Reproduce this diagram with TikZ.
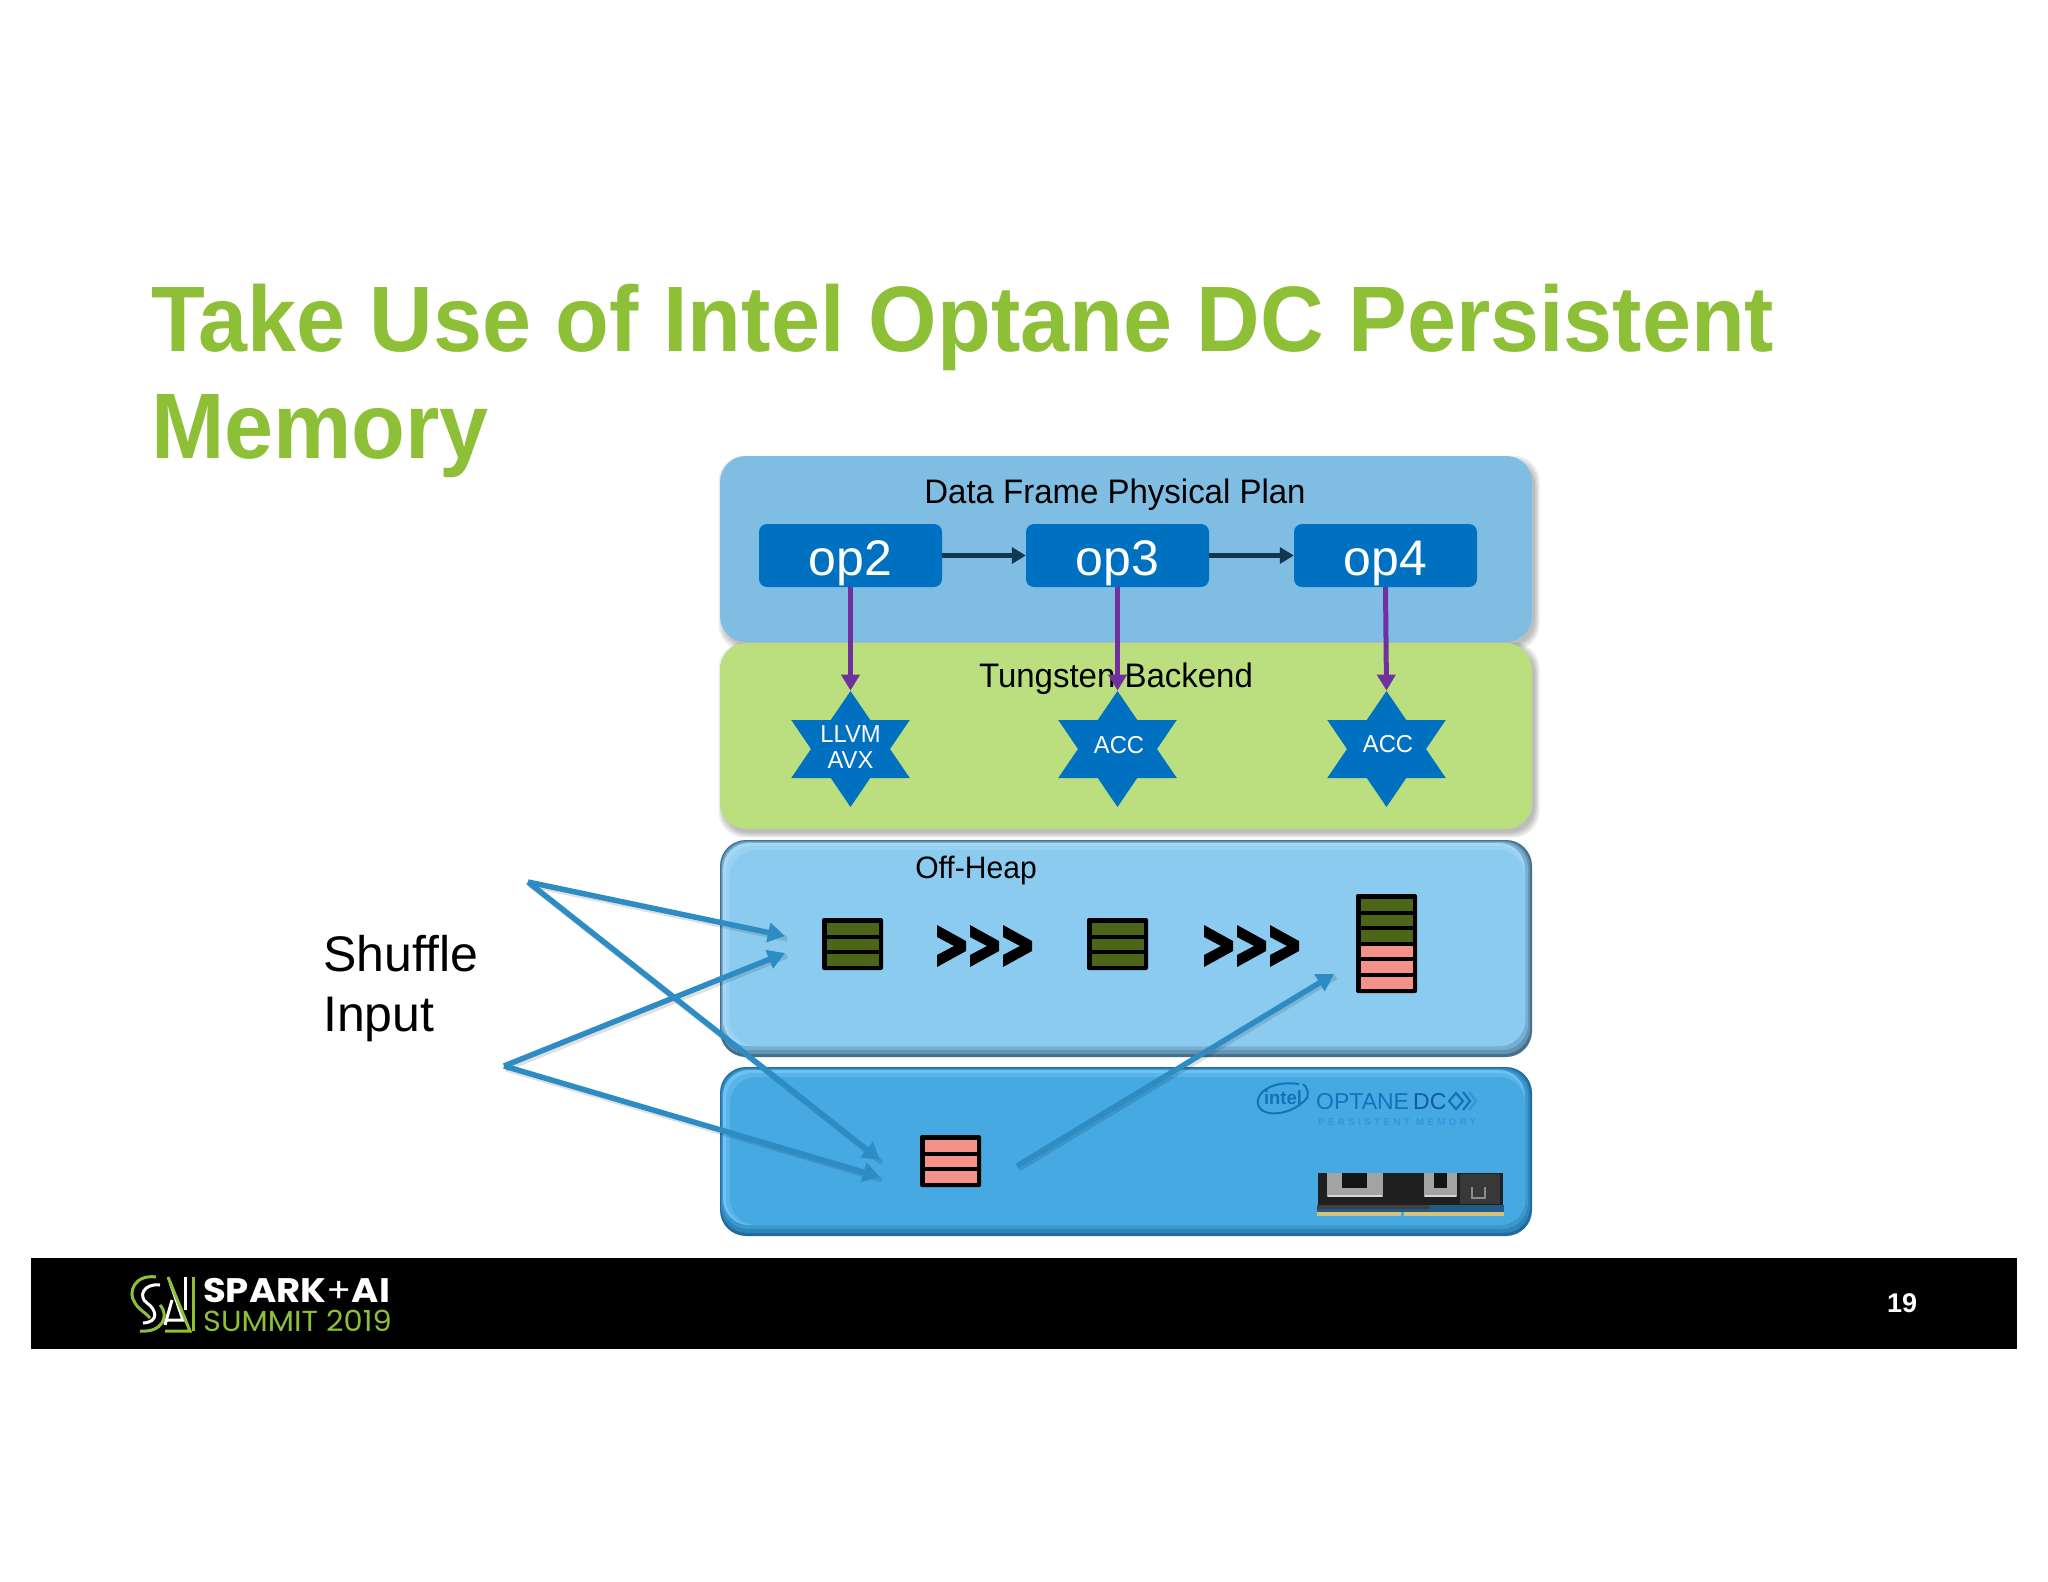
\documentclass[tikz,border=0pt]{standalone}
\usepackage{fontspec}
\setmainfont{Liberation Sans}
\newfontfamily\titlefont[FakeStretch=0.947]{Liberation Sans}
\newfontfamily\labelfont[FakeStretch=0.97]{Liberation Sans}
\newfontfamily\pmfont[LetterSpace=32]{Liberation Sans}
\newfontfamily\logofont[FakeStretch=1.09]{Poppins}
\newfontfamily\summitfont[FakeStretch=1.05]{Poppins}
\usetikzlibrary{arrows.meta,shapes.geometric}
\definecolor{titlegreen}{HTML}{8DBF37}
\definecolor{planblue}{HTML}{80BDE3}
\definecolor{backgreen}{HTML}{BBDF7E}
\definecolor{heapblue}{HTML}{8CCBF0}
\definecolor{heapdark}{HTML}{466F8C}
\definecolor{heaplight}{HTML}{A4D8F5}
\definecolor{optblue}{HTML}{47A9E2}
\definecolor{optdark}{HTML}{1F6C9E}
\definecolor{optlight}{HTML}{6CC2F0}
\definecolor{opblue}{HTML}{0070C0}
\definecolor{arrowblue}{HTML}{2D8CC3}
\definecolor{darkarrow}{HTML}{12384F}
\definecolor{purplearrow}{HTML}{7030A0}
\definecolor{olivebar}{HTML}{4C6518}
\definecolor{pinkbar}{HTML}{F4928A}
\definecolor{intelblue}{HTML}{1273B8}
\definecolor{inteldark}{HTML}{0D5C9C}
\definecolor{intelfaint}{HTML}{2F9ADB}
\definecolor{pcbblue}{HTML}{1F5B85}
\definecolor{goldpin}{HTML}{D8C27A}
\definecolor{silver}{HTML}{A3A3A3}
\tikzset{
  x=1pt,y=-1pt,
  softshadow/.style={fill=black,fill opacity=.07,draw=none,rounded corners=26},
  panel/.style={rounded corners=26,draw=none},
  opbox/.style={fill=opblue,rounded corners=8,minimum width=183,minimum height=63,inner sep=0,text=white,font=\fontsize{50}{52}\selectfont},
  starshape/.style={star,star points=6,star point ratio=1.732,minimum size=116,inner sep=0,fill=opblue,draw=none,xscale=1.18,transform shape},
  startext/.style={text=white,font=\labelfont\fontsize{24.5}{27}\selectfont,align=center,inner sep=0},
  paneltext/.style={text=black,font=\labelfont\fontsize{34}{36}\selectfont,inner sep=0},
  flowarrow/.style={draw=darkarrow,line width=5,-{Triangle[length=14,width=16]}},
  purplearr/.style={draw=purplearrow,line width=5,-{Triangle[length=16,width=18]}},
  bluearr/.style={draw=arrowblue,line width=5.5,-{Triangle[length=17,width=19]}},
  arrshadow/.style={draw=black,draw opacity=.12,line width=5},
  logostroke/.style={line width=3,line cap=butt},
}
\newcommand{\softbox}[4]{%
  \foreach \g in {0,1.5,3,4.5}{\path[softshadow] (#1-\g+3,#2-\g+4) rectangle (#3+\g+3,#4+\g+4);}}
\newcommand{\bevelbox}[7]{%
  \path[panel,fill=#5] (#1,#2) rectangle (#3,#4);
  \path[panel,fill=#5!60!#7] (#1+1,#2+1) rectangle (#3-2,#4-3);
  \path[panel,fill=#5!30!#7] (#1+2,#2+2) rectangle (#3-4,#4-7);
  \path[panel,fill=#6] (#1+3,#2+3) rectangle (#3-7,#4-11);
  \path[panel,fill=#6!50!#7] (#1+6,#2+6) rectangle (#3-7,#4-11);
  \path[panel,fill=#7] (#1+10,#2+10) rectangle (#3-7,#4-11);}
\newcommand{\barstack}[5]{%
  \node[fill=black,draw=none,inner sep=0,minimum width=#3,minimum height=#4,rounded corners=2] (#5) at (#1+#3/2,#2+#4/2) {};}
\newcommand{\chevrons}[2]{%
  \foreach \k in {0,1,2}{\fill[black] (#1+33*\k,#2) -- (#1+29+33*\k,#2+16) -- (#1+29+33*\k,#2+26) -- (#1+33*\k,#2+42) -- (#1+33*\k,#2+30) -- (#1+17+33*\k,#2+21) -- (#1+33*\k,#2+12) -- cycle;}}
\newcommand{\oplabel}[1]{\smash{\raisebox{-20pt}{#1}}}
\begin{document}
\begin{tikzpicture}
\useasboundingbox (0,0) rectangle (2048,1582);
\fill[white] (0,0) rectangle (2048,1582);
% title
\node[anchor=base west,inner sep=0,text=titlegreen,font=\titlefont\bfseries\fontsize{93}{93}\selectfont] (title1) at (151,351) {Take Use of Intel Optane DC Persistent};
\node[anchor=base west,inner sep=0,text=titlegreen,font=\titlefont\bfseries\fontsize{93}{93}\selectfont] (title2) at (151,458) {Memory};
% panels
\softbox{720}{456}{1532}{642}
\path[panel,fill=planblue] (720,456) rectangle (1532,642);
\softbox{720}{643}{1532}{829}
\path[panel,fill=backgreen] (720,643) rectangle (1532,829);
\bevelbox{720}{840}{1532}{1057}{heapdark}{heaplight}{heapblue}
\bevelbox{720}{1067}{1532}{1236}{optdark}{optlight}{optblue}
% labels
\node[paneltext] (plan) at (1115,495) {Data Frame Physical Plan};
\node[paneltext] (back) at (1116,679) {Tungsten Backend};
\node[paneltext,font=\labelfont\fontsize{31}{32}\selectfont] (heap) at (976,870) {Off-Heap};
% ops
\node[opbox] (op2) at (850.5,555.5) {\oplabel{op2}};
\node[opbox] (op3) at (1117.5,555.5) {\oplabel{op3}};
\node[opbox] (op4) at (1385.5,555.5) {\oplabel{op4}};
\draw[flowarrow] (op2) -- (op3);
\draw[flowarrow] (op3) -- (op4);
% stars
\node[starshape] (s1) at (850.5,749) {};
\node[starshape] (s2) at (1117.5,749) {};
\node[starshape] (s3) at (1386.5,749) {};
\node[startext] (s1t) at (850.5,747) {LLVM\\[-0.5pt]AVX};
\node[startext] (s2t) at (1119,745) {ACC};
\node[startext] (s3t) at (1388,744) {ACC};
\draw[purplearr] (op2.south) -- (s1.north);
\draw[purplearr] (op3.south) -- (s2.north);
\draw[purplearr] (op4.south) -- (s3.north);
% stacks
\barstack{822}{918}{61}{52}{st1}
\foreach \r in {0,1,2}{\fill[olivebar] (827,923+\r*15.5) rectangle (879,934.5+\r*15.5);}
\barstack{1087}{918}{61}{52}{st2}
\foreach \r in {0,1,2}{\fill[olivebar] (1092,923+\r*15.5) rectangle (1144,934.5+\r*15.5);}
\barstack{1356}{894}{61}{99}{st3}
\foreach \r in {0,1,2}{\fill[olivebar] (1361,899+\r*15.6) rectangle (1413,910.5+\r*15.6);}
\foreach \r in {3,4,5}{\fill[pinkbar] (1361,899+\r*15.6) rectangle (1413,910.5+\r*15.6);}
\barstack{920}{1135}{61}{52}{st4}
\foreach \r in {0,1,2}{\fill[pinkbar] (925,1140+\r*15.5) rectangle (977,1151.5+\r*15.5);}
% chevrons
\chevrons{937}{925}
\chevrons{1204}{925}
% shuffle
\node[anchor=base west,inner sep=0,font=\fontsize{50}{50}\selectfont] (sh1) at (323,971) {Shuffle};
\node[anchor=base west,inner sep=0,font=\fontsize{50}{50}\selectfont] (sh2) at (323,1031) {Input};
\coordinate (a) at (528,882);
\coordinate (b) at (504,1066);
\coordinate (c) at (1017,1166);
\coordinate (ta) at (785,936);
\coordinate (tb) at (785,953);
\coordinate (tc) at (880,1160);
\coordinate (td) at (880,1177);
\coordinate (te) at (1334,974);
\foreach \p/\q in {a/ta,a/tc,b/tb,b/td,c/te}{\draw[arrshadow] ([shift={(2,3)}]\p) -- ([shift={(2,3)}]\q);}
\draw[bluearr] (a) -- (ta);
\draw[bluearr] (a) -- (tc);
\draw[bluearr] (b) -- (tb);
\draw[bluearr] (b) -- (td);
\draw[bluearr] (c) -- (te);
% optane logo
\draw[intelblue,line width=2] (1299,1084) .. controls (1272,1080) and (1255,1093) .. (1258,1105) .. controls (1262,1118) and (1292,1116) .. (1307,1098) .. controls (1309,1092) and (1307,1087) .. (1303,1084);
\node[text=intelblue,font=\labelfont\bfseries\fontsize{19}{19}\selectfont,inner sep=0] (intel) at (1283,1098) {intel};
\node[anchor=base west,text=intelblue,inner sep=0,font=\fontsize{23}{24}\selectfont] (optane) at (1316,1109) {OPTANE};
\node[anchor=base west,text=inteldark,inner sep=0,font=\fontsize{23}{24}\selectfont] (dc) at (1413,1109) {DC};
\draw[intelblue,line width=2.2] (1456,1093) -- (1463,1101) -- (1456,1109) -- (1449,1101) -- cycle;
\draw[intelblue,line width=2.2] (1463,1092) -- (1470,1101) -- (1463,1110);
\draw[intelfaint,line width=2.2] (1469,1092) -- (1476,1101) -- (1469,1110);
\node[anchor=base west,text=intelfaint,inner sep=0,font=\pmfont\bfseries\fontsize{10}{10}\selectfont] (pm) at (1318,1125) {PERSISTENT MEMORY};
% memory module
\fill[black!88] (1318,1173) rectangle (1503,1205);
\fill[silver] (1327,1173) rectangle (1383,1197);
\fill[black!92] (1342,1173) rectangle (1367,1188);
\fill[white!85!black] (1328,1195) rectangle (1382,1197);
\fill[silver] (1424,1173) rectangle (1457,1197);
\fill[black!92] (1434,1173) rectangle (1447,1188);
\fill[white!85!black] (1425,1195) rectangle (1456,1197);
\fill[black!78] (1460,1174) rectangle (1500,1204);
\draw[black!45,line width=1.5] (1472,1187) -- (1472,1198) -- (1485,1198) -- (1485,1187);
\fill[pcbblue] (1317,1205) rectangle (1504,1212);
\fill[black!75] (1317,1205) rectangle (1430,1209);
\fill[goldpin] (1317,1212) rectangle (1401,1216);
\fill[goldpin] (1404,1212) rectangle (1504,1216);
% footer
\fill[black] (31,1258) rectangle (2017,1349);
\node[anchor=base west,inner sep=0,text=white,font=\logofont\fontsize{34}{34}\selectfont] (spark) at (203,1302) {\bfseries SPARK{\mdseries +}AI};
\node[anchor=base west,inner sep=0,text=titlegreen,font=\summitfont\fontsize{29}{29}\selectfont] (summit) at (203,1331) {SUMMIT 2019};
\draw[titlegreen,logostroke] (156,1277) .. controls (135,1274) and (127,1292) .. (135,1303) .. controls (138,1309) and (145,1312) .. (150,1318);
\draw[titlegreen,logostroke] (140,1331) .. controls (162,1333) and (170,1316) .. (160,1305);
\draw[white,logostroke] (160,1285) .. controls (143,1283) and (138,1297) .. (147,1303) .. controls (156,1309) and (160,1322) .. (143,1323);
\draw[white,logostroke] (170,1282) -- (183,1320) -- (166,1320) ;
\draw[white,logostroke] (172,1300) -- (165,1325);
\draw[white,logostroke] (185,1277) -- (185,1310);
\draw[titlegreen,logostroke] (193,1277) -- (193,1331);
\draw[titlegreen,logostroke] (168,1277) -- (190,1331) -- (165,1331);
\node[anchor=center,inner sep=0,font=\bfseries\fontsize{27}{27}\selectfont,text=white] (pg) at (1902,1303) {19};
\end{tikzpicture}
\end{document}
